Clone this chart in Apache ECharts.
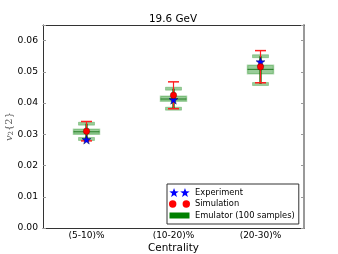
<!DOCTYPE html>
<html><head><meta charset="utf-8">
<script src="https://cdn.jsdelivr.net/npm/echarts@6/dist/echarts.min.js"></script>
<style>html,body{margin:0;padding:0;background:#fff}#c{width:338px;height:254px}</style>
</head><body><div id="c"></div>
<script>
const categories = ['(5-10)%', '(10-20)%', '(20-30)%'];
const yTicks = [0.00, 0.01, 0.02, 0.03, 0.04, 0.05, 0.06];
const experiment = [0.0283, 0.0411, 0.0532];
const simulation = [0.0310, 0.0425, 0.0516];
const simLow = [0.0279, 0.0382, 0.0465];
const simHigh = [0.0341, 0.0468, 0.0568];
const emuLow = [0.0285, 0.0382, 0.0461];
const emuQ1 = [0.0300, 0.0406, 0.0494];
const emuMed = [0.0308, 0.0413, 0.0508];
const emuQ3 = [0.0316, 0.0422, 0.0521];
const emuHigh = [0.0334, 0.0446, 0.0550];

const starPath = 'M5,0L6.18,3.38L9.76,3.45L6.9,5.62L7.94,9.05L5,7L2.06,9.05L3.1,5.62L0.24,3.45L3.82,3.38Z';
const star2Path = 'path://' + starPath + 'M16,0L17.18,3.38L20.76,3.45L17.9,5.62L18.94,9.05L16,7L13.06,9.05L14.1,5.62L11.24,3.45L14.82,3.38Z';
const circ2Path = 'path://M0,4.5a3,3 0 1,0 6,0a3,3 0 1,0 -6,0ZM11,4.5a3,3 0 1,0 6,0a3,3 0 1,0 -6,0Z';
const rectPath = 'path://M0,0M0,1.5h20v6h-20zM20,9';

const emuData = categories.map((c, i) => [i, emuLow[i], emuQ1[i], emuMed[i], emuQ3[i], emuHigh[i]]);
const errData = categories.map((c, i) => [i, simLow[i], simHigh[i]]);

const font = 'DejaVu Sans';
const chart = echarts.init(document.getElementById('c'), null, {renderer: 'canvas'});
chart.setOption({
  animation: false,
  backgroundColor: '#fff',
  title: {text: '19.6 GeV', left: 173, top: 14, textAlign: 'center', padding: 0,
    textStyle: {fontFamily: font, fontSize: 10.4, fontWeight: 'normal', color: '#000'}},
  grid: {left: 43, right: 34, top: 25, bottom: 26, outerBoundsMode: 'none', containLabel: false},
  legend: {
    orient: 'vertical', left: 167, top: 184, padding: [4, 4, 4, 2], itemGap: 3,
    itemWidth: 21, itemHeight: 9, borderColor: '#333', borderWidth: 1, borderRadius: 0,
    backgroundColor: '#fff',
    itemStyle: {borderWidth: 0},
    textStyle: {fontFamily: font, fontSize: 8.3, color: '#000'},
    data: [
      {name: 'Experiment', icon: star2Path},
      {name: 'Simulation', icon: circ2Path},
      {name: 'Emulator (100 samples)', icon: rectPath}
    ]
  },
  xAxis: [{
    type: 'category', data: categories, boundaryGap: true,
    name: 'Centrality', nameLocation: 'middle', nameGap: 15, nameMoveOverlap: false,
    nameTextStyle: {fontFamily: font, fontSize: 10.4, color: '#000'},
    axisLine: {lineStyle: {color: '#333', width: 1}},
    axisTick: {inside: true, alignWithLabel: true, length: 3, lineStyle: {color: '#999'}},
    axisLabel: {fontFamily: font, fontSize: 9, color: '#000', margin: 3}
  }, {
    type: 'category', data: categories, position: 'top', boundaryGap: true,
    axisLine: {onZero: false, lineStyle: {color: '#333', width: 1}},
    axisTick: {inside: true, alignWithLabel: true, length: 3, lineStyle: {color: '#999'}},
    axisLabel: {show: false}
  }],
  yAxis: [{
    type: 'value', min: 0, max: 0.065, interval: 0.01,
    name: '{i|v}{s|2}{2}', nameLocation: 'middle', nameGap: 28, nameMoveOverlap: false,
    nameTextStyle: {fontFamily: 'DejaVu Serif', fontSize: 10, color: '#555',
      rich: {i: {fontFamily: 'DejaVu Serif', fontStyle: 'italic', fontSize: 10, color: '#555'},
             s: {fontFamily: 'DejaVu Serif', fontSize: 7, color: '#555', verticalAlign: 'bottom', padding: [4, 0, 0, 0]}}},
    splitLine: {show: false},
    axisLine: {show: true, onZero: false, lineStyle: {color: '#333', width: 1}},
    axisTick: {show: true, inside: true, length: 3, lineStyle: {color: '#999'}},
    axisLabel: {fontFamily: font, fontSize: 9.2, color: '#000', margin: 5,
      formatter: v => { const t = yTicks.find(x => Math.abs(x - v) < 1e-9); return t === undefined ? '' : t.toFixed(2); }}
  }, {
    type: 'value', min: 0, max: 0.065, interval: 0.01, position: 'right',
    splitLine: {show: false},
    axisLine: {show: true, onZero: false, lineStyle: {color: '#999', width: 2}},
    axisTick: {show: true, inside: true, length: 3, lineStyle: {color: '#999'}},
    axisLabel: {show: false}
  }],
  series: [{
    name: 'Emulator (100 samples)', type: 'custom', z: 2,
    itemStyle: {color: 'green'},
    encode: {x: 0, y: [1, 2, 3, 4, 5]},
    data: emuData,
    renderItem: (params, api) => {
      const x = api.value(0);
      const pLow = api.coord([x, api.value(1)]);
      const pQ1 = api.coord([x, api.value(2)]);
      const pMed = api.coord([x, api.value(3)]);
      const pQ3 = api.coord([x, api.value(4)]);
      const pHigh = api.coord([x, api.value(5)]);
      const cx = pMed[0];
      const boxW = 26, capW = 16;
      const light = 'rgba(0,128,0,0.4)';
      return {type: 'group', children: [
        {type: 'line', shape: {x1: cx, y1: pLow[1], x2: cx, y2: pHigh[1]},
          style: {stroke: 'rgba(0,110,0,0.85)', lineWidth: 2.5}},
        {type: 'rect', shape: {x: cx - capW / 2, y: pHigh[1] - 1.5, width: capW, height: 3},
          style: {fill: light, stroke: 'rgba(0,128,0,0.25)', lineWidth: 1}},
        {type: 'rect', shape: {x: cx - capW / 2, y: pLow[1] - 1.5, width: capW, height: 3},
          style: {fill: light, stroke: 'rgba(0,128,0,0.25)', lineWidth: 1}},
        {type: 'rect', shape: {x: cx - boxW / 2, y: pQ3[1], width: boxW, height: pQ1[1] - pQ3[1]},
          style: {fill: 'rgba(0,128,0,0.4)', stroke: 'rgba(0,128,0,0.3)', lineWidth: 1.5}},
        {type: 'line', shape: {x1: cx - boxW / 2, y1: pMed[1], x2: cx + boxW / 2, y2: pMed[1]},
          style: {stroke: 'rgba(0,100,0,0.8)', lineWidth: 1}}
      ]};
    }
  }, {
    name: 'simErr', type: 'custom', z: 3,
    encode: {x: 0, y: [1, 2]},
    data: errData,
    renderItem: (params, api) => {
      const x = api.value(0);
      const pl = api.coord([x, api.value(1)]);
      const ph = api.coord([x, api.value(2)]);
      const cx = pl[0], w = 11;
      const st = {stroke: '#ff2020', lineWidth: 1.2};
      return {type: 'group', children: [
        {type: 'line', shape: {x1: cx, y1: pl[1], x2: cx, y2: ph[1]}, style: st},
        {type: 'line', shape: {x1: cx - w / 2, y1: pl[1], x2: cx + w / 2, y2: pl[1]}, style: {stroke: '#ff2020', lineWidth: 1.5}},
        {type: 'line', shape: {x1: cx - w / 2, y1: ph[1], x2: cx + w / 2, y2: ph[1]}, style: {stroke: '#ff2020', lineWidth: 1.5}}
      ]};
    }
  }, {
    name: 'Experiment', type: 'scatter', z: 4,
    symbol: 'path://' + starPath, symbolSize: 9,
    itemStyle: {color: '#0000ff', borderColor: '#000033', borderWidth: 0.4, opacity: 1},
    data: experiment
  }, {
    name: 'Simulation', type: 'scatter', z: 5,
    symbol: 'circle', symbolSize: 6.5,
    itemStyle: {color: '#ff0000', borderColor: '#330000', borderWidth: 0.3, opacity: 1},
    data: simulation
  }]
});
</script>
</body></html>
